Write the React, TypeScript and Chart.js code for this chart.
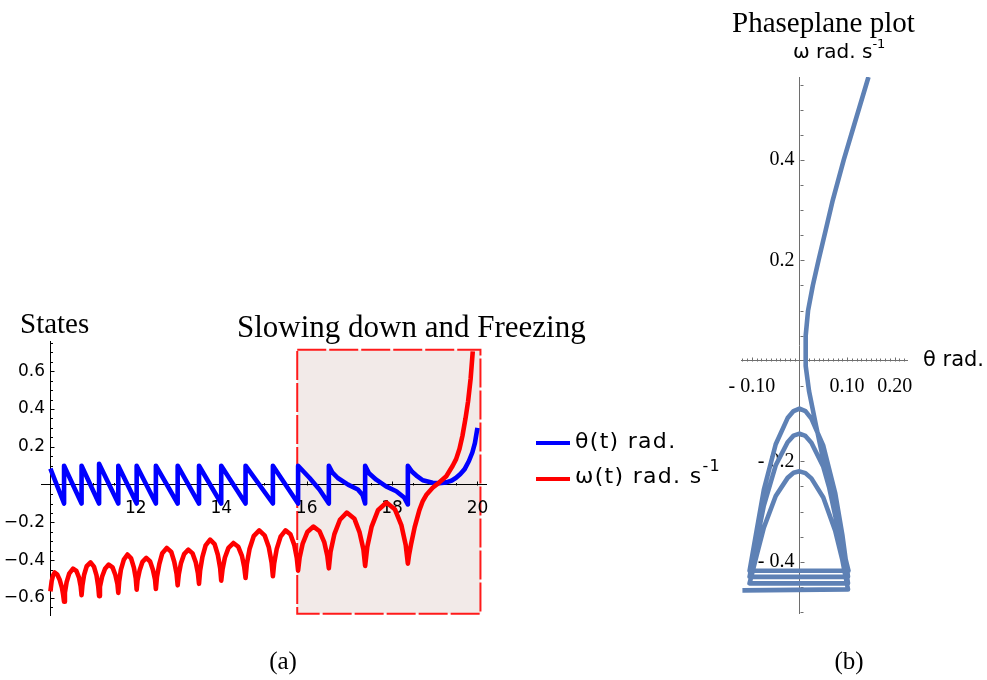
import React, { useEffect, useRef } from "react";
import { Chart, registerables } from "chart.js";

Chart.register(...registerables);

// ---------------- Panel (a): States ----------------
// theta(t) [t, rad]
const thetaPoints: [number, number][] = [
  [10.0, 0.085],
  [10.32, -0.1], [10.32, 0.1],
  [10.73, -0.1], [10.73, 0.1],
  [11.14, -0.1], [11.14, 0.11],
  [11.59, -0.1], [11.59, 0.1],
  [12.02, -0.1], [12.02, 0.1],
  [12.47, -0.1], [12.47, 0.1],
  [12.98, -0.1], [12.98, 0.1],
  [13.48, -0.1], [13.48, 0.1],
  [14.0, -0.1], [14.0, 0.1],
  [14.57, -0.1], [14.57, 0.1],
  [15.21, -0.1], [15.21, 0.1],
  [15.8, -0.1], [15.8, 0.1],
  [16.07, 0.035], [16.3, -0.026],
  [16.52, -0.1], [16.52, 0.1],
  [16.6, 0.065], [16.73, 0.035], [16.97, 0.0], [17.2, -0.026], [17.31, -0.055],
  [17.37, -0.1], [17.37, 0.1],
  [17.46, 0.06], [17.63, 0.026], [17.86, -0.009], [18.1, -0.035], [18.29, -0.07],
  [18.37, -0.105], [18.37, 0.1],
  [18.47, 0.068], [18.57, 0.048], [18.72, 0.023], [18.95, 0.01], [19.1, 0.008],
  [19.27, 0.012], [19.4, 0.022], [19.5, 0.036], [19.6, 0.056], [19.7, 0.082],
  [19.8, 0.125], [19.88, 0.17], [19.94, 0.22], [20.0, 0.3],
];

// omega(t) [t, rad/s]
const omegaPoints: [number, number][] = [
  [10.0, -0.565], [10.03, -0.51], [10.06, -0.482], [10.1, -0.465], [10.16, -0.476], [10.22, -0.505], [10.27, -0.545], [10.3, -0.585], [10.32, -0.62],
  [10.34, -0.571], [10.38, -0.516], [10.44, -0.471], [10.53, -0.445], [10.61, -0.457], [10.67, -0.492], [10.71, -0.54], [10.73, -0.585],
  [10.75, -0.533], [10.79, -0.477], [10.85, -0.432], [10.94, -0.412], [11.02, -0.434], [11.08, -0.48], [11.12, -0.538], [11.14, -0.59],
  [11.16, -0.541], [11.21, -0.488], [11.28, -0.445], [11.365, -0.423], [11.455, -0.438], [11.52, -0.477], [11.57, -0.526], [11.59, -0.573],
  [11.61, -0.513], [11.65, -0.451], [11.72, -0.397], [11.805, -0.37], [11.89, -0.39], [11.955, -0.439], [12.0, -0.498], [12.02, -0.556],
  [12.04, -0.506], [12.09, -0.453], [12.155, -0.409], [12.245, -0.388], [12.335, -0.407], [12.4, -0.45], [12.45, -0.502], [12.47, -0.552],
  [12.495, -0.489], [12.55, -0.421], [12.62, -0.363], [12.725, -0.335], [12.83, -0.356], [12.9, -0.408], [12.955, -0.472], [12.98, -0.533],
  [13.005, -0.478], [13.055, -0.418], [13.13, -0.368], [13.23, -0.344], [13.33, -0.364], [13.405, -0.412], [13.455, -0.47], [13.48, -0.525],
  [13.505, -0.457], [13.56, -0.383], [13.635, -0.322], [13.74, -0.291], [13.845, -0.315], [13.92, -0.371], [13.975, -0.442], [14.0, -0.508],
  [14.03, -0.45], [14.085, -0.387], [14.17, -0.335], [14.285, -0.309], [14.4, -0.329], [14.485, -0.377], [14.54, -0.438], [14.57, -0.494],
  [14.6, -0.42], [14.665, -0.339], [14.76, -0.273], [14.89, -0.242], [15.02, -0.27], [15.115, -0.332], [15.18, -0.412], [15.21, -0.485],
  [15.24, -0.416], [15.3, -0.34], [15.39, -0.275], [15.505, -0.242], [15.62, -0.263], [15.71, -0.319], [15.77, -0.389], [15.8, -0.455],
  [15.836, -0.386], [15.908, -0.312], [16.016, -0.251], [16.16, -0.222], [16.304, -0.247], [16.412, -0.304], [16.484, -0.376], [16.52, -0.443],
  [16.56, -0.355], [16.65, -0.262], [16.78, -0.186], [16.94, -0.148], [17.12, -0.181], [17.24, -0.253], [17.33, -0.344], [17.37, -0.43],
  [17.42, -0.33], [17.52, -0.224], [17.67, -0.136], [17.87, -0.095], [18.07, -0.132], [18.22, -0.216], [18.32, -0.32], [18.37, -0.418],
  [18.4, -0.37], [18.45, -0.31], [18.53, -0.225], [18.64, -0.135], [18.72, -0.087], [18.8, -0.055], [18.95, -0.017],
  [19.11, 0.012], [19.27, 0.044], [19.42, 0.1], [19.5, 0.135], [19.58, 0.19], [19.65, 0.26], [19.72, 0.35],
  [19.78, 0.44], [19.84, 0.56], [19.89, 0.705],
];

const statesXTicks = [12, 14, 16, 18, 20];
const statesXTickLabels = ["12", "14", "16", "18", "20"];
const statesYTicks = [-0.6, -0.4, -0.2, 0.2, 0.4, 0.6];
const statesYTickLabels = ["\u22120.6", "\u22120.4", "\u22120.2", "0.2", "0.4", "0.6"];
// highlighted region: [tStart, tEnd, low, high]
const shadeBox = [15.78, 20.07, -0.683, 0.714];

// ---------------- Panel (b): Phaseplane ----------------
// [theta, omega]
const phasePoints: [number, number][] = [
  [-0.12, -0.457], [0.102, -0.455],
  [0.09, -0.396], [0.075, -0.338], [0.05, -0.272], [0.025, -0.234], [0.0125, -0.2235], [0.0, -0.22],
  [-0.0125, -0.223], [-0.025, -0.233], [-0.05, -0.269], [-0.075, -0.332], [-0.09, -0.387], [-0.105, -0.443],
  [0.102, -0.443],
  [0.09, -0.369], [0.075, -0.294], [0.05, -0.211], [0.025, -0.163], [0.0125, -0.1495], [0.0, -0.145],
  [-0.0125, -0.149], [-0.025, -0.162], [-0.05, -0.208], [-0.075, -0.288], [-0.09, -0.359], [-0.105, -0.43],
  [0.102, -0.43],
  [0.09, -0.346], [0.075, -0.263], [0.05, -0.169], [0.025, -0.115], [0.0125, -0.1], [0.0, -0.095],
  [-0.0125, -0.1], [-0.025, -0.114], [-0.05, -0.166], [-0.075, -0.257], [-0.09, -0.337], [-0.105, -0.418],
  [0.103, -0.418],
  [0.08, -0.33], [0.055, -0.22], [0.035, -0.13], [0.02, -0.06], [0.013, -0.01], [0.013, 0.05], [0.018, 0.1],
  [0.028, 0.15], [0.04, 0.2], [0.055, 0.26], [0.07, 0.32], [0.093, 0.4], [0.115, 0.47], [0.145, 0.565],
];
const phaseXTicks = [-0.1, 0.1, 0.2];
const phaseXTickLabels = ["- 0.10", "0.10", "0.20"];
const phaseYTicks = [-0.4, -0.2, 0.2, 0.4];
const phaseYTickLabels = ["- 0.4", "- 0.2", "0.2", "0.4"];

// ---------------- helpers ----------------
const labelFor = (vals: number[], labels: string[], v: number, suffix = "") => {
  const i = vals.findIndex((t) => Math.abs(t - v) < 1e-9);
  return i >= 0 ? labels[i] + suffix : "";
};

const range = (a: number, b: number, step: number) => {
  const out: number[] = [];
  const n = Math.round((b - a) / step);
  for (let i = 0; i <= n; i++) out.push(+(a + i * step).toFixed(6));
  return out;
};

type TickCfg = {
  id: string;
  color: string;
  yAxisAt: number;
  xMinor: number[];
  xMajor: number[];
  yMinor: number[];
  yMajor: number[];
  majorLen: number;
  minorLen: number;
};

const tickPlugin = (c: TickCfg) => ({
  id: c.id,
  beforeDatasetsDraw(chart: any) {
    const ctx = chart.ctx;
    const xs = chart.scales.x;
    const ys = chart.scales.y;
    const x0 = Math.round(xs.getPixelForValue(c.yAxisAt)) + 0.5;
    const y0 = Math.round(ys.getPixelForValue(0)) + 0.5;
    ctx.save();
    ctx.strokeStyle = c.color;
    ctx.lineWidth = 1;
    ctx.beginPath();
    const isMaj = (arr: number[], v: number) => arr.some((m) => Math.abs(m - v) < 1e-9);
    for (const v of c.xMinor) {
      if (Math.abs(v - c.yAxisAt) < 1e-9) continue;
      const px = Math.round(xs.getPixelForValue(v)) + 0.5;
      const len = isMaj(c.xMajor, v) ? c.majorLen : c.minorLen;
      ctx.moveTo(px, y0);
      ctx.lineTo(px, y0 - len);
    }
    for (const v of c.yMinor) {
      if (Math.abs(v) < 1e-9) continue;
      const py = Math.round(ys.getPixelForValue(v)) + 0.5;
      const len = isMaj(c.yMajor, v) ? c.majorLen : c.minorLen;
      ctx.moveTo(x0, py);
      ctx.lineTo(x0 + len, py);
    }
    ctx.stroke();
    ctx.restore();
  },
});

const shadePlugin = {
  id: "shadeBox",
  beforeDraw(chart: any) {
    const ctx = chart.ctx;
    const xs = chart.scales.x;
    const ys = chart.scales.y;
    const [t0, t1, lo, hi] = shadeBox;
    const x0 = xs.getPixelForValue(t0);
    const x1 = xs.getPixelForValue(t1);
    const y0 = ys.getPixelForValue(hi);
    const y1 = ys.getPixelForValue(lo);
    ctx.save();
    ctx.fillStyle = "#f2eae8";
    ctx.fillRect(x0, y0, x1 - x0, y1 - y0);
    ctx.strokeStyle = "#ff1a1a";
    ctx.lineWidth = 2;
    ctx.setLineDash([29, 3]);
    ctx.strokeRect(x0, y0, x1 - x0, y1 - y0);
    ctx.restore();
  },
};

const toXY = (pts: [number, number][]) => pts.map(([x, y]) => ({ x, y }));

function StatesChart() {
  const ref = useRef<HTMLCanvasElement | null>(null);
  useEffect(() => {
    if (!ref.current) return;
    const chart = new Chart(ref.current, {
      type: "line",
      data: {
        datasets: [
          {
            label: "θ(t) rad.",
            data: toXY(thetaPoints),
            borderColor: "#0000ff",
            borderWidth: 4.6,
            pointRadius: 0,
            tension: 0,
            order: 2,
            borderJoinStyle: "round",
          } as any,
          {
            label: "ω(t) rad. s-1",
            data: toXY(omegaPoints),
            borderColor: "#ff0000",
            borderWidth: 4.6,
            pointRadius: 0,
            tension: 0,
            order: 1,
            borderJoinStyle: "round",
          } as any,
        ],
      },
      options: {
        animation: false,
        responsive: false,
        devicePixelRatio: 1,
        layout: { padding: { left: 41, right: 14, top: 341, bottom: 65 } },
        plugins: { legend: { display: false }, tooltip: { enabled: false } },
        scales: {
          x: {
            type: "linear",
            min: 9.78,
            max: 20.2,
            position: { y: 0 } as any,
            grid: { display: false },
            border: { color: "#000", width: 1 },
            afterBuildTicks: (s: any) => {
              s.ticks = statesXTicks.map((value) => ({ value }));
            },
            ticks: {
              autoSkip: false,
              maxRotation: 0,
              padding: 6,
              color: "#000",
              font: { family: "DejaVu Sans", size: 17 },
              callback: (v: any) => labelFor(statesXTicks, statesXTickLabels, Number(v)),
            },
          },
          y: {
            type: "linear",
            min: -0.69,
            max: 0.76,
            position: { x: 10 } as any,
            grid: { display: false },
            border: { color: "#000", width: 1 },
            afterBuildTicks: (s: any) => {
              s.ticks = statesYTicks.map((value) => ({ value }));
            },
            ticks: {
              autoSkip: false,
              color: "#000",
              font: { family: "DejaVu Sans", size: 17 },
              callback: (v: any) => labelFor(statesYTicks, statesYTickLabels, Number(v), " "),
            },
          },
        },
      },
      plugins: [
        shadePlugin,
        tickPlugin({
          id: "statesTicks",
          color: "#000",
          yAxisAt: 10,
          xMinor: range(10, 20, 0.5),
          xMajor: statesXTicks,
          yMinor: range(-0.65, 0.75, 0.05),
          yMajor: statesYTicks,
          majorLen: 4,
          minorLen: 2.5,
        }),
      ],
    });
    return () => chart.destroy();
  }, []);
  return (
    <canvas
      ref={ref}
      width={500}
      height={680}
      style={{ position: "absolute", left: 0, top: 0, width: 500, height: 680 }}
    />
  );
}

function PhaseChart() {
  const ref = useRef<HTMLCanvasElement | null>(null);
  useEffect(() => {
    if (!ref.current) return;
    const chart = new Chart(ref.current, {
      type: "line",
      data: {
        datasets: [
          {
            label: "phase",
            data: toXY(phasePoints),
            borderColor: "#5e81b5",
            borderWidth: 4.6,
            pointRadius: 0,
            tension: 0,
            borderJoinStyle: "round",
          } as any,
        ],
      },
      options: {
        animation: false,
        responsive: false,
        devicePixelRatio: 1,
        layout: { padding: { left: 51, right: 80, top: 77, bottom: 67 } },
        plugins: { legend: { display: false }, tooltip: { enabled: false } },
        scales: {
          x: {
            type: "linear",
            min: -0.123,
            max: 0.226,
            position: { y: 0 } as any,
            grid: { display: false },
            border: { color: "#6e6e6e", width: 1 },
            afterBuildTicks: (s: any) => {
              s.ticks = phaseXTicks.map((value) => ({ value }));
            },
            ticks: {
              autoSkip: false,
              maxRotation: 0,
              padding: 6,
              color: "#000",
              font: { family: "Liberation Serif", size: 20 },
              callback: (v: any) => labelFor(phaseXTicks, phaseXTickLabels, Number(v)),
            },
          },
          y: {
            type: "linear",
            min: -0.502,
            max: 0.565,
            position: { x: 0 } as any,
            grid: { display: false },
            border: { color: "#6e6e6e", width: 1 },
            afterBuildTicks: (s: any) => {
              s.ticks = phaseYTicks.map((value) => ({ value }));
            },
            ticks: {
              autoSkip: false,
              color: "#000",
              font: { family: "Liberation Serif", size: 20 },
              callback: (v: any) => labelFor(phaseYTicks, phaseYTickLabels, Number(v), " "),
            },
          },
        },
      },
      plugins: [
        tickPlugin({
          id: "phaseTicks",
          color: "#6e6e6e",
          yAxisAt: 0,
          xMinor: range(-0.12, 0.22, 0.01),
          xMajor: phaseXTicks,
          yMinor: range(-0.5, 0.55, 0.05),
          yMajor: phaseYTicks,
          majorLen: 4,
          minorLen: 3,
        }),
      ],
    });
    return () => chart.destroy();
  }, []);
  return (
    <canvas
      ref={ref}
      width={297}
      height={680}
      style={{ position: "absolute", left: 690, top: 0, width: 297, height: 680 }}
    />
  );
}

const Txt = ({
  left,
  baseline,
  size,
  family,
  center,
  spacing,
  children,
}: {
  left: number;
  baseline: number;
  size: number;
  family: string;
  center?: boolean;
  spacing?: number;
  children: React.ReactNode;
}) => (
  <div
    style={{
      position: "absolute",
      left,
      top: baseline - 0.84 * size,
      fontFamily: family,
      fontSize: size,
      lineHeight: 1,
      whiteSpace: "nowrap",
      color: "#000",
      letterSpacing: spacing ? `${spacing}px` : undefined,
      transform: center ? "translateX(-50%)" : undefined,
    }}
  >
    {children}
  </div>
);

const sup = (s: string, size: number) => (
  <span style={{ fontSize: size, position: "relative", top: -size * 0.75 }}>{s}</span>
);

const SERIF = "'Liberation Serif', 'Times New Roman', serif";
const SANS = "'DejaVu Sans', sans-serif";

export default function App() {
  return (
    <div
      style={{
        position: "fixed",
        left: 0,
        top: 0,
        width: 987,
        height: 680,
        background: "#fff",
        overflow: "hidden",
      }}
    >
      <StatesChart />
      <PhaseChart />
      <Txt left={20} baseline={333} size={29} family={SERIF}>States</Txt>
      <Txt left={237} baseline={337} size={31} family={SERIF}>Slowing down and Freezing</Txt>
      <Txt left={732} baseline={32} size={29} family={SERIF}>Phaseplane plot</Txt>
      <Txt left={793} baseline={58} size={20} family={SANS}>
        ω rad. s{sup("-1", 13)}
      </Txt>
      <Txt left={923} baseline={367} size={21} family={SANS}>θ rad.</Txt>
      {/* legend */}
      <div style={{ position: "absolute", left: 536, top: 441, width: 34, height: 4, background: "#0000ff" }} />
      <div style={{ position: "absolute", left: 536, top: 477, width: 34, height: 4, background: "#ff0000" }} />
      <Txt left={575} baseline={448} size={22} family={SANS} spacing={1.3}>θ(t) rad.</Txt>
      <Txt left={575} baseline={483} size={22} family={SANS} spacing={1.3}>
        ω(t) rad. s{sup("-1", 16)}
      </Txt>
      <Txt left={283} baseline={669} size={25} family={SERIF} center>(a)</Txt>
      <Txt left={849} baseline={669} size={25} family={SERIF} center>(b)</Txt>
    </div>
  );
}
